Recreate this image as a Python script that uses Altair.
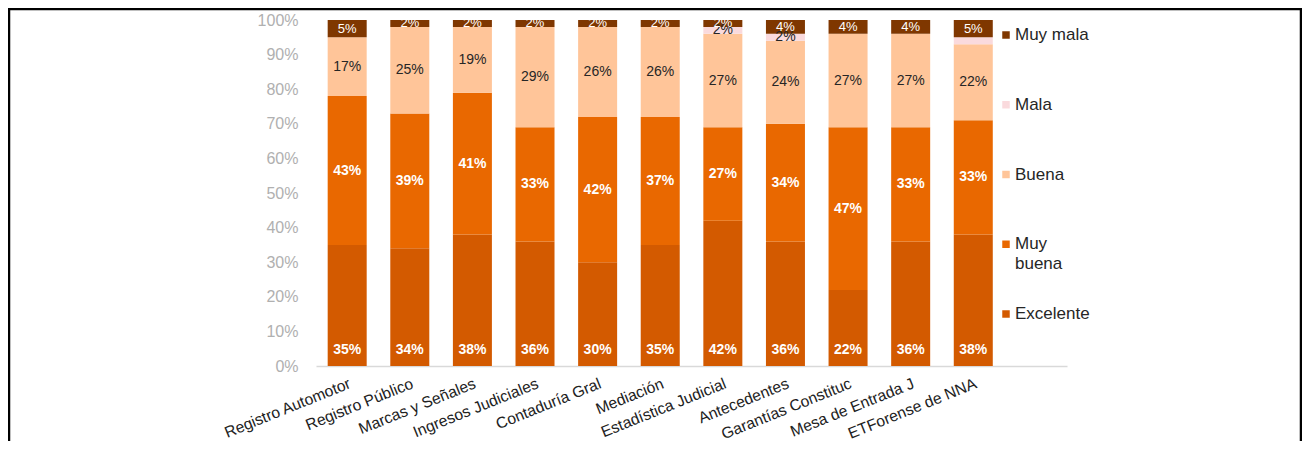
import altair as alt
import pandas as pd

FONT = "Liberation Sans"

services = ["Registro Automotor", "Registro Público", "Marcas y Señales", "Ingresos Judiciales",
            "Contaduría Gral", "Mediación", "Estadística Judicial", "Antecedentes",
            "Garantías Constituc", "Mesa de Entrada J", "ETForense de NNA"]
excelente = [35, 34, 38, 36, 30, 35, 42, 36, 22, 36, 38]
muy_buena = [43, 39, 41, 33, 42, 37, 27, 34, 47, 33, 33]
buena = [17, 25, 19, 29, 26, 26, 27, 24, 27, 27, 22]
mala = [0, 0, 0, 0, 0, 0, 2, 2, 0, 0, 2]
muy_mala = [5, 2, 2, 2, 2, 2, 2, 4, 4, 4, 5]
mala_label_shown = [0, 0, 0, 0, 0, 0, 1, 1, 0, 0, 0]

categories = ["Excelente", "Muy buena", "Buena", "Mala", "Muy mala"]
colors = ["#D35A00", "#E96800", "#FFC599", "#FADADD", "#7F3700"]
legend_order = ["Muy mala", "Mala", "Buena", "Muy buena", "Excelente"]
legend_text = ["Muy mala", "Mala", "Buena", "Muy\nbuena", "Excelente"]
y_ticks = [0, 10, 20, 30, 40, 50, 60, 70, 80, 90, 100]

series = {"Excelente": excelente, "Muy buena": muy_buena, "Buena": buena,
          "Mala": mala, "Muy mala": muy_mala}
rows = []
for i, s in enumerate(services):
    for k, c in enumerate(categories):
        v = series[c][i]
        show = mala_label_shown[i] if c == "Mala" else 1
        rows.append(dict(service=s, cat=c, order=k, value=v, label=f"{v}%", show=show))
df = pd.DataFrame(rows)

color_scale = alt.Scale(domain=categories, range=colors)
y_scale = alt.Scale(domain=[0, 100])
y_axis = alt.Axis(values=y_ticks, labelExpr="datum.value + '%'", grid=False, domain=False,
                  ticks=False, labelPadding=18, labelFontSize=16, labelColor="#B0B0B0",
                  labelFont=FONT, labelOverlap=False, title=None)

base = alt.Chart(df).transform_stack(
    stack="value", groupby=["service"], as_=["y0", "y1"],
    sort=[alt.SortField("order", order="ascending")]
).transform_calculate(mid="(datum.y0 + datum.y1) / 2")

x_enc = alt.X(
    "service:N", sort=services, title=None,
    scale=alt.Scale(paddingInner=0.377, paddingOuter=0.686, align=0.136),
    axis=alt.Axis(labelAngle=-22, labelAlign="right", labelBaseline="top", labelPadding=10,
                  labelFontSize=15.7, labelColor="#222222", labelFont=FONT, ticks=False,
                  domainColor="#D9D9D9", domainWidth=1.5, labelLimit=300, labelOverlap=False),
)

bars = base.mark_bar().encode(
    x=x_enc,
    y=alt.Y("y0:Q", scale=y_scale, title=None, axis=y_axis),
    y2="y1:Q",
    color=alt.Color("cat:N", scale=color_scale, legend=None),
)


def seg_text(cat, color, weight, size, field="mid", dy=0):
    return base.transform_filter(
        f"datum.cat == '{cat}' && datum.show == 1"
    ).mark_text(color=color, fontWeight=weight, fontSize=size, font=FONT,
                baseline="middle", dy=dy).encode(
        x=x_enc, y=alt.Y(f"{field}:Q", scale=y_scale, title=None, axis=y_axis),
        text="label:N")


t_exc = seg_text("Excelente", "white", "bold", 14, field="y0", dy=-16)
t_mb = seg_text("Muy buena", "white", "bold", 14)
t_b = seg_text("Buena", "#262626", "normal", 14)
t_m = seg_text("Mala", "#262626", "normal", 14)
t_mm = seg_text("Muy mala", "white", "normal", 13)

main = alt.layer(bars, t_exc, t_mb, t_b, t_m, t_mm)

leg_df = pd.DataFrame({"cat": legend_order, "text": legend_text})
leg_y = alt.Y("cat:N", sort=legend_order,
              scale=alt.Scale(type="point", range=[15, 294], padding=0), axis=None)
leg_sym = alt.Chart(leg_df).mark_square(size=56, opacity=1).encode(
    x=alt.value(690), y=leg_y,
    color=alt.Color("cat:N", scale=color_scale, legend=None))
leg_txt = alt.Chart(leg_df).mark_text(
    align="left", baseline="top", dy=-8, fontSize=17, font=FONT, lineBreak="\n",
    lineHeight=20, color="#262626").encode(x=alt.value(699), y=leg_y, text="text:N")
legend = alt.layer(leg_sym, leg_txt)

one = pd.DataFrame({"k": [0]})
frame_l = alt.Chart(one).mark_rule(color="black", strokeWidth=2.5).encode(
    x=alt.value(-307), y=alt.value(-11), y2=alt.value(425))
frame_t = alt.Chart(one).mark_rule(color="black", strokeWidth=2.5).encode(
    x=alt.value(-308), x2=alt.value(986), y=alt.value(-11))
frame_r = alt.Chart(one).mark_rule(color="black", strokeWidth=2.5).encode(
    x=alt.value(985), y=alt.value(-11), y2=alt.value(425))

chart = alt.layer(main, legend, frame_l, frame_t, frame_r).resolve_scale(
    y="independent"
).properties(
    width=751, height=346,
    autosize=alt.AutoSizeParams(type="none"),
    padding={"left": 308, "top": 12, "right": 235, "bottom": 75},
    background="white",
).configure(font=FONT).configure_view(stroke=None)

chart.save("out.html", embed_options={"renderer": "svg", "actions": False})
